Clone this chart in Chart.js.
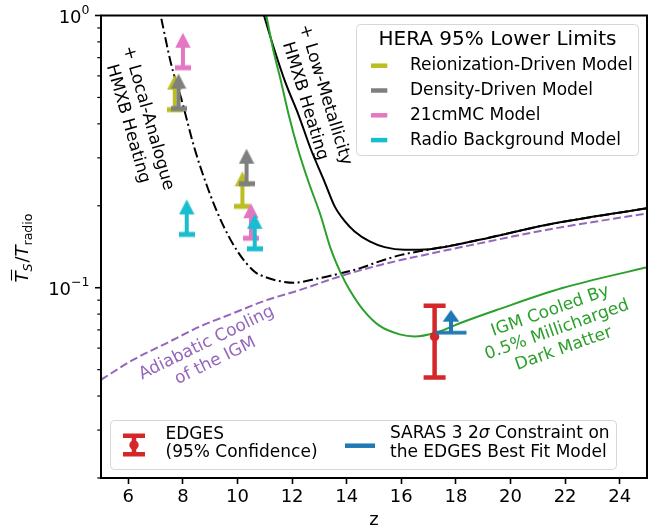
<!DOCTYPE html>
<html><head><meta charset="utf-8">
<script src="https://cdn.jsdelivr.net/npm/chart.js@4"></script>
<style>html,body{margin:0;padding:0;background:#fff}#wrap{width:666px;height:531px}</style>
</head><body><div id="wrap"><canvas id="c" width="666" height="531"></canvas></div>
<script>
// ---------------- data ----------------
const xTicks = [6, 8, 10, 12, 14, 16, 18, 20, 22, 24];
const yMajorTicks = [1, 0.1];
const yMinorTicks = [0.02,0.03,0.04,0.05,0.06,0.07,0.08,0.09,0.2,0.3,0.4,0.5,0.6,0.7,0.8,0.9];

const adiabaticZ = [5, 6.17, 7.39, 8.61, 9.83, 11.06, 12.27, 13.74, 15.2, 17.0, 18.86, 21.3, 25];
const adiabaticT = [0.0459, 0.0543, 0.0625, 0.0719, 0.0805, 0.090, 0.098, 0.110, 0.121, 0.133, 0.1455, 0.163, 0.1875];

const localZ = [7.21, 7.58, 7.94, 8.43, 8.92, 9.41, 10.01, 10.63, 10.99, 11.5, 12.07, 12.92, 13.78, 14.5, 15.2, 16.0, 17.0, 18.0, 18.86, 21.3, 25];
const localT = [0.973, 0.656, 0.495, 0.324, 0.231, 0.175, 0.1355, 0.1145, 0.1097, 0.106, 0.1043, 0.108, 0.113, 0.118, 0.125, 0.132, 0.138, 0.144, 0.150, 0.170, 0.196];

const lowMetZ = [10.97, 11.34, 11.75, 12.24, 12.68, 13.19, 13.56, 13.92, 14.29, 14.84, 15.39, 16.12, 17.04, 18.86, 21.3, 25];
const lowMetT = [1.0, 0.755, 0.569, 0.430, 0.324, 0.245, 0.199, 0.176, 0.161, 0.148, 0.141, 0.1379, 0.1386, 0.150, 0.170, 0.196];

const dmZ = [11.055, 11.30, 11.60, 11.88, 12.21, 12.60, 13.04, 13.41, 13.80, 14.11, 14.58, 15.21, 15.94, 16.49, 17.22, 18.26, 19.49, 21.90, 25];
const dmT = [1.0, 0.755, 0.569, 0.430, 0.324, 0.245, 0.185, 0.1394, 0.1122, 0.0981, 0.0835, 0.0724, 0.0674, 0.0662, 0.0682, 0.0748, 0.0828, 0.0997, 0.119];

// HERA 95% lower limits (z, lower limit)
const reionZ = [7.70, 10.18];  const reionT = [0.451, 0.199];
const densZ  = [7.84, 10.33];  const densT  = [0.455, 0.241];
const mcZ    = [8.00, 10.49];  const mcT    = [0.643, 0.152];
const radioZ = [8.14, 10.63];  const radioT = [0.157, 0.139];

// EDGES (95% confidence)
const edgesZ = 17.22; const edgesT = 0.0661; const edgesLo = 0.0468; const edgesHi = 0.0859;
// SARAS 3 constraint
const sarasZ = 17.82; const sarasT = 0.0684;

// ---------------- styles ----------------
const C = {olive:'#bcbd22', gray:'#7f7f7f', pink:'#e377c2', cyan:'#17becf', red:'#d62728', blue:'#1f77b4', green:'#2ca02c', purple:'#9467bd'};
const FONT = '"DejaVu Sans", "Liberation Sans", sans-serif';

function pts(xs, ys){ return xs.map((x,i)=>({x:x, y:ys[i]})); }

function arrowCanvas(color){
  const c = document.createElement('canvas'); c.width = 16; c.height = 72;
  const g = c.getContext('2d'); g.fillStyle = color;
  g.fillRect(0, 33.5, 16, 5);
  g.fillRect(6, 15, 4, 21);
  g.beginPath(); g.moveTo(8, 1); g.lineTo(15.7, 16); g.lineTo(0.3, 16); g.closePath(); g.fill();
  return c;
}
function sarasCanvas(color){
  const c = document.createElement('canvas'); c.width = 32; c.height = 48;
  const g = c.getContext('2d'); g.fillStyle = color;
  g.fillRect(0.5, 22.2, 31, 3.6);
  g.fillRect(14, 12, 4, 12);
  g.beginPath(); g.moveTo(16, 1.3); g.lineTo(24.3, 13); g.lineTo(7.7, 13); g.closePath(); g.fill();
  return c;
}

const lineBase = {pointRadius:0, borderWidth:2, cubicInterpolationMode:'monotone', fill:false, clip:0};
function heraSet(xs, ys, color, order){
  return {data:pts(xs,ys), showLine:false, pointStyle:arrowCanvas(color), pointRadius:5, order:order};
}

const datasets = [
  Object.assign({data:pts(adiabaticZ, adiabaticT), borderColor:C.purple, borderDash:[8,3.5], order:20}, lineBase),
  Object.assign({data:pts(localZ, localT), borderColor:'#000', borderDash:[10,3.5,2,3.5], order:19}, lineBase),
  Object.assign({data:pts(lowMetZ, lowMetT), borderColor:'#000', order:18}, lineBase),
  Object.assign({data:pts(dmZ, dmT), borderColor:C.green, order:17}, lineBase),
  heraSet(reionZ, reionT, C.olive, 9),
  heraSet(densZ, densT, C.gray, 8),
  heraSet(mcZ, mcT, C.pink, 7),
  heraSet(radioZ, radioT, C.cyan, 6),
  {data:[{x:edgesZ,y:edgesLo},{x:edgesZ,y:edgesHi}], borderColor:C.red, borderWidth:4.5, pointStyle:'line', pointRadius:11, pointBorderWidth:4.5, pointBorderColor:C.red, order:3},
  {data:[{x:edgesZ,y:edgesT}], showLine:false, pointStyle:'circle', pointRadius:4.7, pointBackgroundColor:C.red, pointBorderWidth:0, order:2},
  {data:[{x:sarasZ,y:sarasT}], showLine:false, pointStyle:sarasCanvas(C.blue), pointRadius:5, order:1}
];

// ---------------- drawing helpers ----------------
function drawLines(ctx, lines, cx, cy, angDeg, font, color, spacing){
  ctx.save();
  ctx.translate(cx, cy); ctx.rotate(angDeg*Math.PI/180);
  ctx.font = font; ctx.fillStyle = color; ctx.textAlign = 'center'; ctx.textBaseline = 'middle';
  const n = lines.length;
  lines.forEach((t,i)=>{ ctx.fillText(t, 0, (i-(n-1)/2)*spacing); });
  ctx.restore();
}

const decor = {
  id:'decor',
  afterDatasetsDraw(chart){
    const ctx = chart.ctx, a = chart.chartArea, xs = chart.scales.x, ys = chart.scales.y;
    ctx.save();
    // annotations
    drawLines(ctx, ['+ Local-Analogue','HMXB Heating'], 138, 121, 74, '17px '+FONT, '#000', 21);
    drawLines(ctx, ['+ Low-Metallicity','HMXB Heating'], 315, 98, 73, '17px '+FONT, '#000', 21);
    drawLines(ctx, ['Adiabatic Cooling','of the IGM'], 211, 352, -26, '17px '+FONT, C.purple, 20);
    drawLines(ctx, ['IGM Cooled By','0.5% Millicharged','Dark Matter'], 557, 330, -19.5, '17px '+FONT, C.green, 20);

    // frame
    ctx.strokeStyle = '#000'; ctx.lineWidth = 2;
    ctx.strokeRect(a.left, a.top, a.right-a.left, a.bottom-a.top);

    // y ticks
    ctx.lineWidth = 1.6;
    yMajorTicks.forEach(v=>{
      const y = ys.getPixelForValue(v);
      ctx.beginPath(); ctx.moveTo(a.left-6, y); ctx.lineTo(a.left, y); ctx.stroke();
    });
    ctx.lineWidth = 1.2;
    yMinorTicks.forEach(v=>{
      const y = ys.getPixelForValue(v);
      ctx.beginPath(); ctx.moveTo(a.left-3.7, y); ctx.lineTo(a.left, y); ctx.stroke();
    });
    // y tick labels (10^0, 10^-1)
    ctx.fillStyle = '#000'; ctx.textBaseline = 'alphabetic';
    [[1,'0'],[0.1,'\u22121']].forEach(([v,e])=>{
      const y = ys.getPixelForValue(v);
      ctx.font = '12.5px '+FONT; const we = ctx.measureText(e).width;
      const right = a.left - 11.5;
      ctx.textAlign = 'left';
      ctx.fillText(e, right - we, y - 1.5);
      ctx.font = '18px '+FONT; ctx.textAlign = 'right';
      ctx.fillText('10', right - we, y + 7.5);
    });

    // y axis title
    ctx.save();
    ctx.translate(21, 248); ctx.rotate(-Math.PI/2);
    const fi = 'italic 18px '+FONT, fr = '18px '+FONT, si = 'italic 12.6px '+FONT, sr = '12.6px '+FONT;
    const parts = [[ 'T', fi, 0, true ], ['S', si, 4, false], ['/', fr, 0, false], ['T', fi, 0, false], ['radio', sr, 4, false]];
    let tw = 0; parts.forEach(p=>{ ctx.font = p[1]; p.push(ctx.measureText(p[0]).width); tw += p[4] + (p[0]==='S'?1:0); });
    let xx = -tw/2;
    ctx.textAlign = 'left'; ctx.textBaseline = 'alphabetic'; ctx.fillStyle = '#000';
    parts.forEach(p=>{
      ctx.font = p[1]; ctx.fillText(p[0], xx, 6.5 + p[2]);
      if (p[3]) { ctx.lineWidth = 1.1; ctx.beginPath(); ctx.moveTo(xx+2, -9.5); ctx.lineTo(xx+p[4]+2, -9.5); ctx.stroke(); }
      xx += p[4] + (p[0]==='S'?1:0);
    });
    ctx.restore();

    // x axis title
    ctx.font = '18px '+FONT; ctx.textAlign = 'center'; ctx.textBaseline = 'middle';
    ctx.fillText('z', (a.left+a.right)/2, 520);

    // ---- HERA legend ----
    function box(x0,y0,x1,y1){
      const r = 4;
      ctx.beginPath();
      ctx.moveTo(x0+r,y0); ctx.lineTo(x1-r,y0); ctx.arcTo(x1,y0,x1,y0+r,r);
      ctx.lineTo(x1,y1-r); ctx.arcTo(x1,y1,x1-r,y1,r);
      ctx.lineTo(x0+r,y1); ctx.arcTo(x0,y1,x0,y1-r,r);
      ctx.lineTo(x0,y0+r); ctx.arcTo(x0,y0,x0+r,y0,r); ctx.closePath();
      ctx.fillStyle = 'rgba(255,255,255,0.8)'; ctx.fill();
      ctx.strokeStyle = '#d6d6d6'; ctx.lineWidth = 1; ctx.stroke();
    }
    box(356.5, 24.5, 638.5, 155.5);
    ctx.fillStyle = '#000'; ctx.textAlign = 'center'; ctx.textBaseline = 'middle';
    ctx.font = '20px '+FONT; ctx.fillText('HERA 95% Lower Limits', 497.5, 39.5);
    const heraItems = [['Reionization-Driven Model', C.olive], ['Density-Driven Model', C.gray], ['21cmMC Model', C.pink], ['Radio Background Model', C.cyan]];
    heraItems.forEach((it,i)=>{
      const y = 65.7 + i*24.8;
      ctx.strokeStyle = it[1]; ctx.lineWidth = 4.5;
      ctx.beginPath(); ctx.moveTo(371, y); ctx.lineTo(387.3, y); ctx.stroke();
      ctx.fillStyle = '#000'; ctx.textAlign = 'left'; ctx.font = '17px '+FONT;
      ctx.fillText(it[0], 410, y);
    });

    // ---- bottom legend ----
    box(110.5, 420.5, 616.5, 469.5);
    ctx.strokeStyle = C.red; ctx.lineWidth = 4.5;
    ctx.beginPath(); ctx.moveTo(134, 435.7); ctx.lineTo(134, 454.3); ctx.stroke();
    ctx.beginPath(); ctx.moveTo(123, 435.7); ctx.lineTo(145, 435.7); ctx.moveTo(123, 454.3); ctx.lineTo(145, 454.3); ctx.stroke();
    ctx.fillStyle = C.red; ctx.beginPath(); ctx.arc(134, 445, 4.7, 0, Math.PI*2); ctx.fill();
    ctx.fillStyle = '#000'; ctx.textAlign = 'left'; ctx.textBaseline = 'middle'; ctx.font = '17px '+FONT;
    ctx.fillText('EDGES', 165.5, 434.5);
    ctx.fillText('(95% Confidence)', 165.5, 453);
    ctx.strokeStyle = C.blue; ctx.lineWidth = 4.5;
    ctx.beginPath(); ctx.moveTo(345, 445.7); ctx.lineTo(375, 445.7); ctx.stroke();
    let sx = 390;
    const seg = [['SARAS 3 2', '17px '+FONT], ['\u03C3', 'italic 17px '+FONT], [' Constraint on', '17px '+FONT]];
    seg.forEach(s=>{ ctx.font = s[1]; ctx.fillText(s[0], sx, 434); sx += ctx.measureText(s[0]).width; });
    ctx.font = '17px '+FONT;
    ctx.fillText('the EDGES Best Fit Model', 390, 453);
    ctx.restore();
  }
};

new Chart(document.getElementById('c'), {
  type:'line',
  data:{datasets:datasets},
  plugins:[decor],
  options:{
    responsive:false, animation:false, devicePixelRatio:1,
    layout:{padding:{top:15, right:19, left:0, bottom:0}},
    plugins:{legend:{display:false}, tooltip:{enabled:false}},
    scales:{
      x:{type:'linear', min:5, max:25,
         afterBuildTicks:(s)=>{ s.ticks = xTicks.map(v=>({value:v})); },
         afterFit:(s)=>{ s.height = 53; },
         ticks:{font:{family:FONT, size:18}, color:'#000', padding:3, maxRotation:0, autoSkip:false},
         grid:{drawOnChartArea:false, drawTicks:true, tickLength:6, tickWidth:1.6, tickColor:'#000', color:'#000'},
         border:{display:false}},
      y:{type:'logarithmic', min:0.02, max:1,
         afterFit:(s)=>{ s.width = 101; },
         ticks:{display:false},
         grid:{display:false},
         border:{display:false}}
    }
  }
});
</script></body></html>
